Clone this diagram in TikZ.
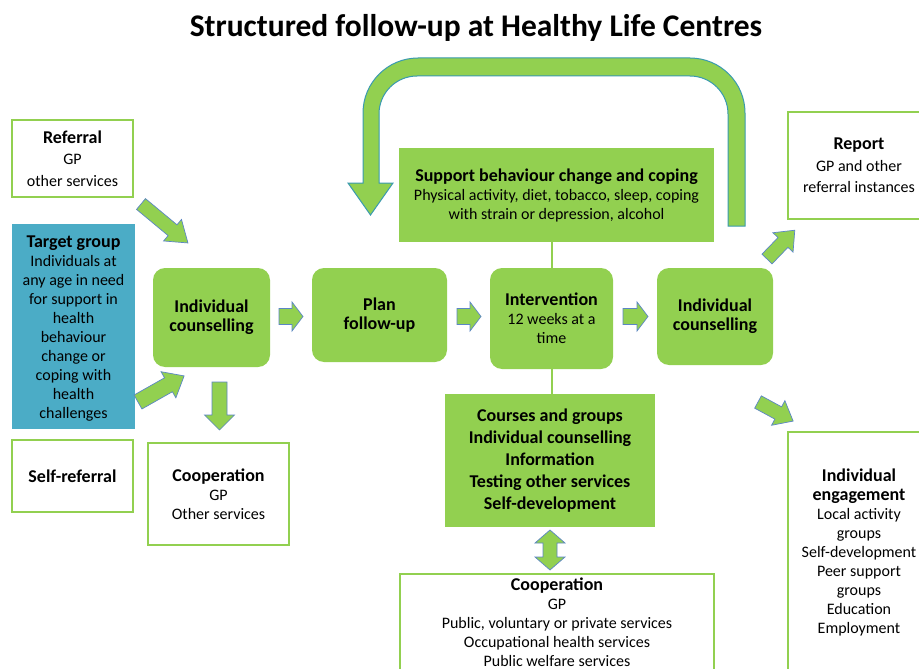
\documentclass[tikz,border=0pt]{standalone}
\usepackage{fontspec}
\setmainfont{Carlito}
\definecolor{hgreen}{HTML}{92D050}
\definecolor{hblue}{HTML}{4BACC6}
\definecolor{arrborder}{HTML}{5B86C5}
\definecolor{loopborder}{HTML}{3A9AB0}
\newcommand{\hb}{\fontsize{18}{21}\selectfont\bfseries}
\newcommand{\barrowat}[7]{%
  \begin{scope}[shift={(#1,#2)},rotate=#3]
    \draw[barr] (0,-#5) -- ({#4-#7},-#5) -- ({#4-#7},-#6) -- (#4,0) -- ({#4-#7},#6) -- ({#4-#7},#5) -- (0,#5) -- cycle;
  \end{scope}}
\tikzset{
  base/.style={align=center, inner sep=0pt, font=\fontsize{16}{19}\selectfont},
  wide/.style={font=\fontsize{16}{21.5}\selectfont},
  wbox/.style={base, draw=hgreen, line width=2.5pt, fill=white},
  gbox/.style={base, fill=hgreen, rounded corners=12pt},
  sbox/.style={base, fill=hgreen},
  barr/.style={fill=hgreen, draw=arrborder, line width=0.7pt, line join=miter},
  loopst/.style={fill=hgreen, draw=loopborder, line width=1pt, line join=miter},
  link/.style={draw=hgreen, line width=2pt}
}
\begin{document}
\begin{tikzpicture}[x=1pt,y=-1pt]
\clip (0,0) rectangle (919,669);
\fill[white] (0,0) rectangle (919,669);

\node[base] (title) at (476,28) {\fontsize{31.5}{36}\selectfont\bfseries Structured follow-up at Healthy Life Centres};

% loop arrow
\draw[loopst] (728,226) -- (728,114) arc[start angle=0,end angle=-90,radius=38] -- (417,76)
  arc[start angle=-90,end angle=-180,radius=38] -- (379,183) -- (393,183) -- (370.5,215) -- (348,183) -- (363,183)
  -- (363,113) arc[start angle=180,end angle=270,radius=55] -- (690,58)
  arc[start angle=270,end angle=360,radius=55] -- (745,226) -- cycle;

% left column
\node[wbox, wide, minimum width=121, minimum height=77] (referral) at (72.5,158.5)
  {{\hb Referral}\\GP\\other services};
\node[base, fill=hblue, minimum width=123, minimum height=205] (target) at (73.5,326.5) {};
\node[base, align=center] (targettext) at (73.5,329)
  {{\hb Target group}\\Individuals at\\any age in need\\for support in\\health\\behaviour\\change or\\coping with\\health\\challenges};
\node[wbox, minimum width=121, minimum height=72] (self) at (72.5,476)
  {{\hb Self-referral}};

% main row
\node[gbox, minimum width=117, minimum height=99] (ic1) at (211.5,317.5)
  {{\hb Individual}\\{\hb counselling}};
\node[gbox, minimum width=135, minimum height=94] (plan) at (379.5,315)
  {{\hb Plan}\\{\hb follow-up}};
\node[gbox, minimum width=123, minimum height=101] (interv) at (551.5,318.5)
  {{\hb Intervention}\\12 weeks at a\\time};
\node[gbox, minimum width=116, minimum height=97] (ic2) at (715,316.5)
  {{\hb Individual}\\{\hb counselling}};

\node[wbox, minimum width=141, minimum height=102] (coop1) at (218.5,494)
  {{\hb Cooperation}\\GP\\Other services};

\node[sbox, minimum width=315, minimum height=94] (support) at (556.5,195)
  {{\hb Support behaviour change and coping}\\Physical activity, diet, tobacco, sleep, coping\\with strain or depression, alcohol};

\node[sbox, minimum width=210, minimum height=133, font=\fontsize{18}{22}\selectfont\bfseries] (courses) at (550,460.5)
  {Courses and groups\\Individual counselling\\Information\\Testing other services\\Self-development};

\node[wbox, minimum width=314, minimum height=100] (coop2) at (557,624) {};
\node[base] (coop2text) at (557,622)
  {{\hb Cooperation}\\GP\\Public, voluntary or private services\\Occupational health services\\Public welfare services};

\node[wbox, wide, minimum width=142, minimum height=107] (report) at (859,165.5)
  {{\hb Report}\\GP and other\\referral instances};
\node[wbox, minimum width=142, minimum height=240] (engage) at (859,552)
  {{\hb Individual}\\{\hb engagement}\\Local activity\\groups\\Self-development\\Peer support\\groups\\Education\\Employment};

% links
\draw[link] (interv.north) -- (interv.north |- support.south);
\draw[link] (interv.south) -- (interv.south |- courses.north);

% block arrows
\barrowat{141}{204}{-39.7}{61}{7}{14}{20}
\barrowat{138}{402}{29.5}{53}{8}{15}{18}
\barrowat{219.5}{382}{-90}{48}{7.5}{15}{15}
\barrowat{279}{316.5}{0}{24}{8}{14.5}{11}
\barrowat{457}{316.5}{0}{24}{8}{14.5}{11}
\barrowat{623}{316.5}{0}{25}{8}{14.5}{11}
\barrowat{767}{259}{46}{40}{7}{14}{17}
\barrowat{758}{402}{-28.5}{40}{7}{14}{17}

% double arrow
\draw[barr] (550,530) -- (565,543) -- (557,543) -- (557,557) -- (565,557) -- (550,570)
  -- (535,557) -- (543,557) -- (543,543) -- (535,543) -- cycle;
\end{tikzpicture}
\end{document}
